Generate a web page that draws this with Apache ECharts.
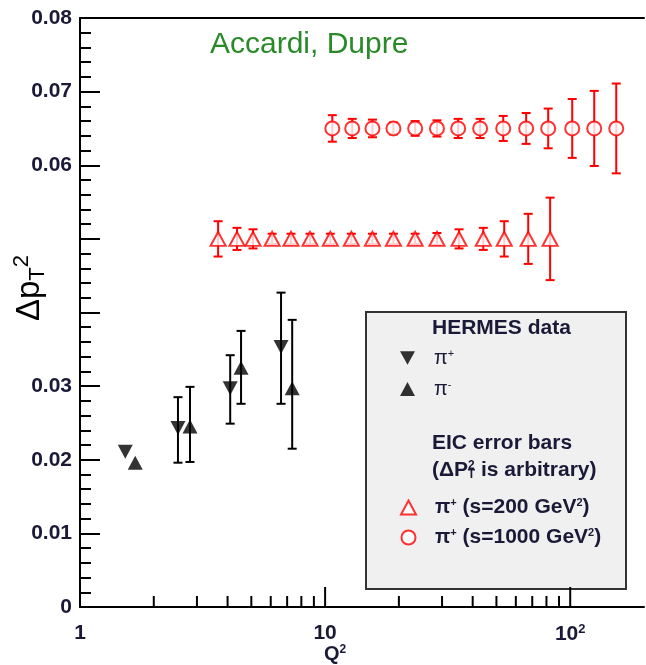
<!DOCTYPE html>
<html>
<head>
<meta charset="utf-8">
<script src="https://cdn.jsdelivr.net/npm/echarts@6/dist/echarts.min.js"></script>
<style>
    html, body { margin: 0; padding: 0; background: #fff; }
    #chart { width: 646px; height: 665px; }
</style>
</head>
<body>
<div id="chart"></div>
<script>
// HERMES pi+ (down triangles); lo == hi means no visible error bar
var hermesPipQ2 = [1.53, 2.51, 4.10, 6.61];
var hermesPipVal = [0.0211, 0.0243, 0.0297, 0.0353];
var hermesPipLo = [0.0211, 0.0196, 0.0249, 0.0276];
var hermesPipHi = [0.0211, 0.0285, 0.0342, 0.0427];

// HERMES pi- (up triangles)
var hermesPimQ2 = [1.68, 2.81, 4.54, 7.34];
var hermesPimVal = [0.0196, 0.0245, 0.0325, 0.0297];
var hermesPimLo = [0.0196, 0.0197, 0.0276, 0.0215];
var hermesPimHi = [0.0196, 0.0299, 0.0375, 0.0390];

// EIC pi+ s=200 GeV^2 (open triangles), central value is arbitrary
var eic200Q2 = [3.66, 4.37, 5.08, 6.08, 7.26, 8.68, 10.5, 12.8, 15.6, 19.0, 23.3, 28.6, 35.2, 44.2, 53.8, 67.4, 82.8];
var eic200Val = 0.05;
var eic200Err = [0.0024, 0.0015, 0.0013, 0.0007, 0.0007, 0.0007, 0.0007, 0.0007, 0.0007, 0.0007, 0.0007, 0.0008, 0.0013, 0.0015, 0.0024, 0.0034, 0.0056];

// EIC pi+ s=1000 GeV^2 (open circles)
var eic1000Q2 = [10.7, 12.9, 15.6, 19.0, 23.3, 28.6, 34.9, 42.9, 53.3, 66.1, 81.3, 101.9, 125.3, 154.1];
var eic1000Val = 0.065;
var eic1000Err = [0.0018, 0.0013, 0.0012, 0.0008, 0.0010, 0.0011, 0.0013, 0.0013, 0.0017, 0.0021, 0.0027, 0.0040, 0.0051, 0.0061];

// log axis minor/major tick positions
var xTickVals = [2, 3, 4, 5, 6, 7, 8, 9, 10, 20, 30, 40, 50, 60, 70, 80, 90, 100];
var xMajor = [1, 10, 100];

var textCol = '#1a1a38';
var font = '"Liberation Sans", Arial';

function pts(q, v) {
    return q.map(function (x, i) { return [x, Array.isArray(v) ? v[i] : v]; });
}
function bars(q, v, err) {
    return q.map(function (x, i) { return [x, v - err[i], v + err[i]]; });
}
function barsLH(q, lo, hi) {
    return q.map(function (x, i) { return [x, lo[i], hi[i]]; });
}

function errRender(color, cap) {
    return function (params, api) {
        var x = api.value(0);
        if (api.value(1) === api.value(2)) return null;
        var p1 = api.coord([x, api.value(1)]);
        var p2 = api.coord([x, api.value(2)]);
        var st = { stroke: color, lineWidth: 2 };
        return {
            type: 'group',
            children: [
                { type: 'line', shape: { x1: p1[0], y1: p1[1], x2: p2[0], y2: p2[1] }, style: st },
                { type: 'line', shape: { x1: p1[0] - cap, y1: p1[1], x2: p1[0] + cap, y2: p1[1] }, style: st },
                { type: 'line', shape: { x1: p2[0] - cap, y1: p2[1], x2: p2[0] + cap, y2: p2[1] }, style: st }
            ]
        };
    };
}

function tickRender(params, api) {
    var v = api.value(0);
    var p = api.coord([v, 0]);
    var len = xMajor.indexOf(Math.round(v)) >= 0 ? 20 : 11;
    return {
        type: 'line',
        shape: { x1: p[0], y1: p[1], x2: p[0], y2: p[1] - len },
        style: { stroke: '#000', lineWidth: 2 }
    };
}

var downTri = 'path://M0,0 L10,0 L5,9 Z';

var chart = echarts.init(document.getElementById('chart'));
var option = {
    animation: false,
    grid: { left: 80, right: 2, top: 18, bottom: 58, containLabel: false },
    xAxis: [{
        type: 'log', logBase: 10, min: 1, max: 200,
        axisLine: { lineStyle: { color: '#000', width: 2 } },
        axisTick: { show: false },
        splitLine: { show: false },
        axisLabel: {
            margin: 16, color: textCol, fontWeight: 'bold', fontSize: 21, fontFamily: font,
            showMaxLabel: false,
            formatter: function (v) {
                var r = Math.round(v);
                if (r === 1) return '1';
                if (r === 10) return '10';
                if (r === 100) return '10{sup|2}';
                return '';
            },
            rich: { sup: { fontSize: 13, fontWeight: 'bold', color: textCol, verticalAlign: 'top', padding: [0, 0, 10, 0] } }
        }
    }, {
        type: 'log', logBase: 10, min: 1, max: 200, position: 'top',
        axisLine: { lineStyle: { color: '#000', width: 2 } },
        axisTick: { show: false }, axisLabel: { show: false }, splitLine: { show: false }
    }],
    yAxis: {
        type: 'value', min: 0, max: 0.08, interval: 0.01,
        axisLine: { show: true, lineStyle: { color: '#000', width: 2 } },
        axisTick: { show: true, inside: true, length: 20, lineStyle: { color: '#000', width: 2 } },
        minorTick: { show: true, splitNumber: 5, length: 11, lineStyle: { color: '#000', width: 2 } },
        splitLine: { show: false },
        axisLabel: {
            margin: 8, color: textCol, fontWeight: 'bold', fontSize: 21, fontFamily: font,
            formatter: function (v) {
                var r = Math.round(v * 100);
                if (r === 0) return '0';
                if (r === 4 || r === 5) return '';
                return v.toFixed(2);
            }
        }
    },
    legend: [{
        data: ['HERMES π+', 'HERMES π-'],
        orient: 'vertical', left: 395, top: 343,
        itemWidth: 15, itemHeight: 14, itemGap: 11,
        selectedMode: false,
        textStyle: { padding: [0, 0, 0, 14], fontSize: 20, color: textCol, fontFamily: font,
            rich: { p: { fontSize: 20, color: textCol }, s: { fontSize: 11, color: textCol, verticalAlign: 'top', padding: [0, 0, 8, 0] } } },
        formatter: function (n) { return n === 'HERMES π+' ? '{p|π}{s|+}' : '{p|π}{s|-}'; }
    }, {
        data: ['EIC s=200', 'EIC s=1000'],
        orient: 'vertical', left: 395, top: 492,
        itemWidth: 15, itemHeight: 14, itemGap: 9,
        selectedMode: false,
        textStyle: { padding: [0, 0, 0, 14], fontSize: 21, fontWeight: 'bold', color: textCol, fontFamily: font,
            rich: {
                p: { fontSize: 20, color: textCol },
                b: { fontSize: 21, fontWeight: 'bold', color: textCol },
                s: { fontSize: 11, fontWeight: 'bold', color: textCol, verticalAlign: 'top', padding: [0, 0, 8, 0] }
            } },
        formatter: function (n) {
            return n === 'EIC s=200' ? '{p|π}{s|+}{b| (s=200 GeV}{s|2}{b|)}' : '{p|π}{s|+}{b| (s=1000 GeV}{s|2}{b|)}';
        }
    }],
    graphic: [
        { type: 'rect', z: 0, shape: { x: 366, y: 312, width: 260, height: 277 },
          style: { fill: '#f0f0f0', stroke: '#333', lineWidth: 2 } },
        { type: 'text', z: 100, left: 432, top: 318,
          style: { text: 'HERMES data', font: 'bold 21px ' + font, fill: textCol } },
        { type: 'text', z: 100, left: 432, top: 433,
          style: { text: 'EIC error bars', font: 'bold 21px ' + font, fill: textCol } },
        { type: 'text', z: 100, left: 432, top: 460,
          style: { text: '(ΔP{s|2}{t|T} is arbitrary)', font: 'bold 21px ' + font, fill: textCol,
              rich: { s: { fontSize: 12, fontWeight: 'bold', fill: textCol, verticalAlign: 'top', padding: [0, 0, 8, 0] },
                      t: { fontSize: 12, fontWeight: 'bold', fill: textCol, verticalAlign: 'bottom', padding: [8, 0, 0, -7] } } } },
        { type: 'text', z: 100, left: 210, top: 30,
          style: { text: 'Accardi, Dupre', font: '30px ' + font, fill: '#2a8a2a' } },
        { type: 'text', z: 100, x: 30, y: 288, rotation: Math.PI / 2,
          style: { text: 'Δp{t|T}{s|2}', font: '33px ' + font, fill: '#000', align: 'center', verticalAlign: 'middle',
              rich: { t: { fontSize: 22, fill: '#000', verticalAlign: 'bottom', padding: [12, 0, 0, 0] },
                      s: { fontSize: 22, fill: '#000', verticalAlign: 'top', padding: [0, 0, 16, 0] } } } },
        { type: 'text', z: 100, left: 324, top: 644,
          style: { text: 'Q{s|2}', font: 'bold 20px ' + font, fill: textCol,
              rich: { s: { fontSize: 12, fontWeight: 'bold', fill: textCol, verticalAlign: 'top', padding: [0, 0, 8, 0] } } } }
    ],
    series: [
        { type: 'custom', name: 'xticks', silent: true, clip: false, z: 5,
          data: xTickVals.map(function (v) { return [v, 0]; }), renderItem: tickRender },
        { type: 'custom', name: 'errPip', silent: true, z: 2, encode: { x: 0, y: [1, 2] },
          data: barsLH(hermesPipQ2, hermesPipLo, hermesPipHi), renderItem: errRender('#000', 4.5) },
        { type: 'custom', name: 'errPim', silent: true, z: 2, encode: { x: 0, y: [1, 2] },
          data: barsLH(hermesPimQ2, hermesPimLo, hermesPimHi), renderItem: errRender('#000', 4.5) },
        { type: 'custom', name: 'err200', silent: true, z: 2, encode: { x: 0, y: [1, 2] },
          data: bars(eic200Q2, eic200Val, eic200Err), renderItem: errRender('#ff0000', 4.5) },
        { type: 'custom', name: 'err1000', silent: true, z: 2, encode: { x: 0, y: [1, 2] },
          data: bars(eic1000Q2, eic1000Val, eic1000Err), renderItem: errRender('#ff0000', 4.5) },
        { type: 'scatter', name: 'HERMES π+', z: 3, symbol: downTri, symbolSize: [15, 14],
          itemStyle: { color: '#000' }, data: pts(hermesPipQ2, hermesPipVal) },
        { type: 'scatter', name: 'HERMES π-', z: 3, symbol: 'triangle', symbolSize: [15, 14],
          itemStyle: { color: '#000' }, data: pts(hermesPimQ2, hermesPimVal) },
        { type: 'scatter', name: 'EIC s=200', z: 3, symbol: 'triangle', symbolSize: [15, 14],
          itemStyle: { color: '#fff', borderColor: '#ff0000', borderWidth: 2 }, data: pts(eic200Q2, eic200Val) },
        { type: 'scatter', name: 'EIC s=1000', z: 3, symbol: 'circle', symbolSize: 14,
          itemStyle: { color: '#fff', borderColor: '#ff0000', borderWidth: 2 }, data: pts(eic1000Q2, eic1000Val) }
    ]
};
chart.setOption(option);
</script>
</body>
</html>
